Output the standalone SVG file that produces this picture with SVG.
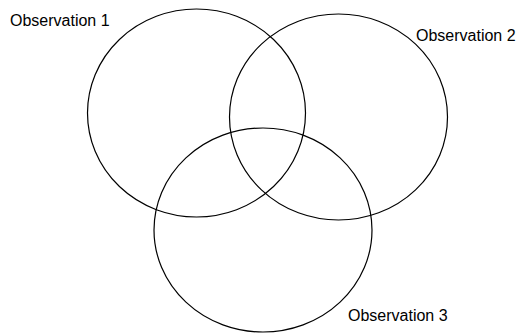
<svg xmlns="http://www.w3.org/2000/svg" width="519" height="333" viewBox="0 0 519 333">
<style>
.c{fill:none;stroke:#000;stroke-width:1.2}
.t{font-family:"Liberation Sans",Arial,sans-serif;font-size:16px;fill:#000}
</style>
<rect width="519" height="333" fill="#fff"/>
<g id="obs1"><ellipse class="c" cx="196.5" cy="113" rx="109" ry="104"/><text class="t" x="10" y="26">Observation 1</text></g>
<g id="obs2"><ellipse class="c" cx="338.5" cy="117" rx="109" ry="103"/><text class="t" x="416" y="41">Observation 2</text></g>
<g id="obs3"><ellipse class="c" cx="263" cy="230" rx="109" ry="102"/><text class="t" x="348" y="321">Observation 3</text></g>
</svg>
